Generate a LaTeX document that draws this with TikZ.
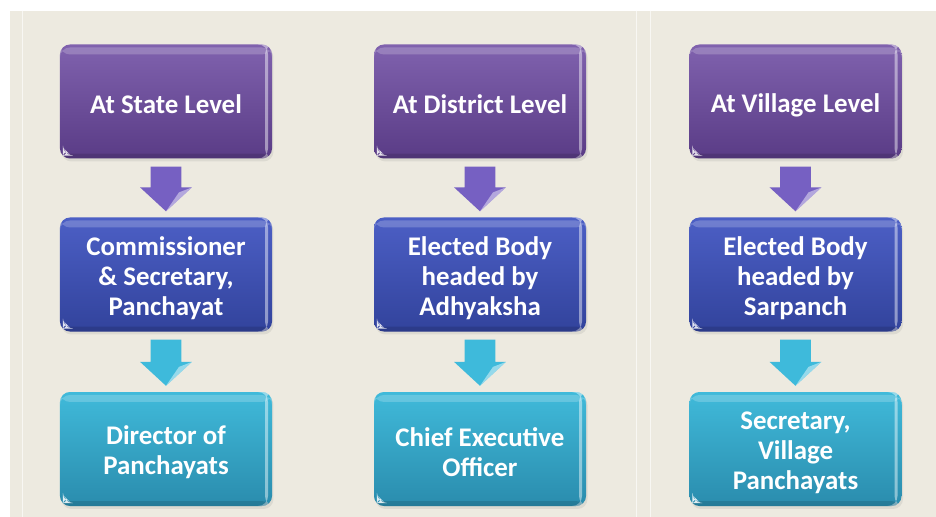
\documentclass[tikz,border=0pt]{standalone}
\usepackage{fontspec}
\setmainfont{Carlito}
\usepackage{tikz}
\usetikzlibrary{calc,shadows}

\definecolor{paper}{HTML}{EDEAE0}
\definecolor{lvlTop}{HTML}{8062AE}
\definecolor{lvlBot}{HTML}{5A3C86}
\definecolor{bodyTop}{HTML}{4C5FC5}
\definecolor{bodyBot}{HTML}{32439C}
\definecolor{offTop}{HTML}{40BADA}
\definecolor{offBot}{HTML}{2A8CAD}
\definecolor{arrLvl}{HTML}{7660C2}
\definecolor{arrOff}{HTML}{3EBADB}

\tikzset{
  boxtext/.style={align=center, text=white, font=\fontsize{27}{30}\selectfont\bfseries, yshift=-3.5pt},
  box/.style={rounded corners=10pt, minimum width=212bp, minimum height=114bp,
    label={[boxtext]center:{#1}},
    drop shadow={shadow xshift=1.5pt, shadow yshift=-3pt, opacity=.15},
    path picture={
      \fill[white,opacity=.2] ([yshift=-3pt]path picture bounding box.north west)
        rectangle ([yshift=-10pt]path picture bounding box.north east);
      \fill[white,opacity=.45] ([xshift=-7pt]path picture bounding box.north east)
        rectangle ([xshift=-4pt]path picture bounding box.south east);
      \fill[black,opacity=.12] ([yshift=5pt]path picture bounding box.south west)
        rectangle (path picture bounding box.south east);
      \fill[white,opacity=.85] ([xshift=3pt,yshift=3pt]path picture bounding box.south west)
        -- ++(8pt,0) -- ++(-8pt,8pt) -- cycle;
    }},
  lvlbox/.style={box={\raisebox{2pt}{#1}}, top color=lvlTop, bottom color=lvlBot},
  bodybox/.style={box={#1}, top color=bodyTop, bottom color=bodyBot},
  offbox/.style={box={#1}, top color=offTop, bottom color=offBot},
  % block arrow between two stacked boxes
  flowarrow/.style={to path={let \p1=(\tikztostart), \p2=(\tikztotarget) in
    (\x1-15.5pt,\y1-8pt) -- (\x1+15.5pt,\y1-8pt) -- (\x1+15.5pt,\y2+30pt)
    -- (\x1+26pt,\y2+30pt) -- (\x1,\y2+6pt) -- (\x1-26pt,\y2+30pt)
    -- (\x1-15.5pt,\y2+30pt) -- cycle}},
  % light facet on the arrow head
  flowgloss/.style={fill=white, opacity=.45, to path={let \p1=(\tikztostart), \p2=(\tikztotarget) in
    (\x1+26pt,\y2+30pt) -- (\x1,\y2+6pt) -- (\x1+13pt,\y2+25pt) -- cycle}},
  arrowA/.style={flowarrow, fill=arrLvl},
  arrowB/.style={flowarrow, fill=arrOff}
}

\begin{document}
\begin{tikzpicture}[x=1bp,y=-1bp]
\fill[white] (-5,-5) rectangle (945,525);
\fill[paper] (10,11) rectangle (945,525);
\draw[white!60!paper] (22,11) -- (22,525);
\draw[white!60!paper] (636,11) -- (636,525);
\draw[white!60!paper] (650,11) -- (650,525);

% top row
\node[lvlbox={At State Level}] (state) at (166,101.5) {};
\node[lvlbox={At District Level}] (district) at (480,101.5) {};
\node[lvlbox={At Village Level}] (village) at (795.5,101.5) {};

% middle row
\node[bodybox={Commissioner\\\& Secretary,\\Panchayat}] (stateBody) at (166,274.5) {};
\node[bodybox={Elected Body\\headed by\\Adhyaksha}] (districtBody) at (480,274.5) {};
\node[bodybox={Elected Body\\headed by\\Sarpanch}] (villageBody) at (795.5,274.5) {};

% bottom row
\node[offbox={Director of\\Panchayats}] (stateOff) at (166,449) {};
\node[offbox={Chief Executive\\Officer}] (districtOff) at (480,449) {};
\node[offbox={Secretary,\\Village\\Panchayats}] (villageOff) at (795.5,449) {};

\path[arrowA] (state.south) to (stateBody.north);
\path[arrowA] (district.south) to (districtBody.north);
\path[arrowA] (village.south) to (villageBody.north);
\path[arrowB] (stateBody.south) to (stateOff.north);
\path[arrowB] (districtBody.south) to (districtOff.north);
\path[arrowB] (villageBody.south) to (villageOff.north);

\foreach \a/\b in {state/stateBody, district/districtBody, village/villageBody,
    stateBody/stateOff, districtBody/districtOff, villageBody/villageOff}
  \path[flowgloss] (\a.south) to (\b.north);

\pgfresetboundingbox
\useasboundingbox (0,0) rectangle (936,517);
\end{tikzpicture}
\end{document}
